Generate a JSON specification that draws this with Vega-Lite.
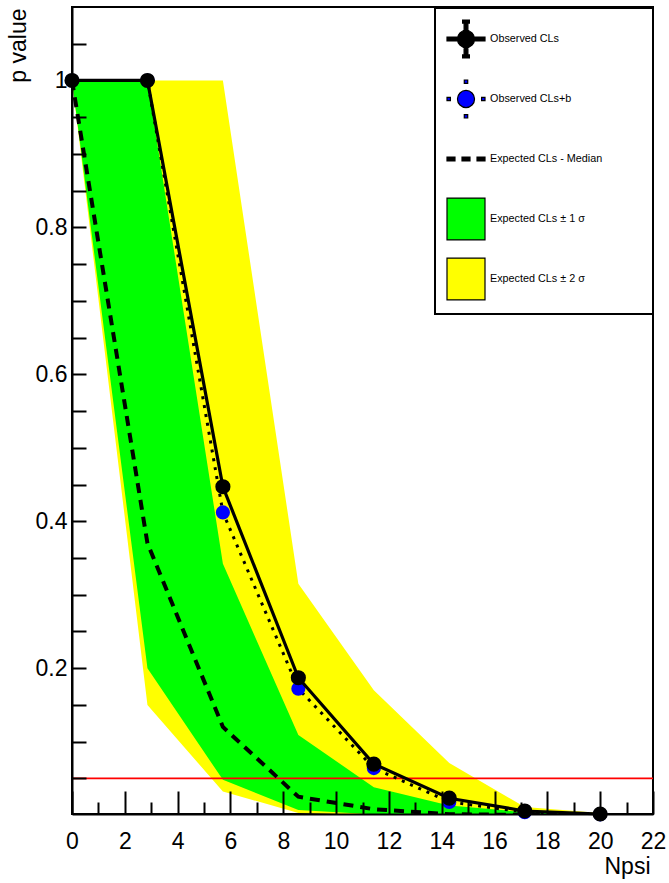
{
  "$schema": "https://vega.github.io/schema/vega-lite/v6.json",
  "width": 581,
  "height": 807,
  "autosize": {"type": "none"},
  "padding": {"left": 72, "top": 7, "right": 16, "bottom": 69},
  "background": "white",
  "data": {
    "values": [
      {"series": "band2", "Npsi": 0, "lo": 1, "hi": 1},
      {"series": "band2", "Npsi": 2.857, "lo": 0.15, "hi": 1},
      {"series": "band2", "Npsi": 5.714, "lo": 0.032, "hi": 1},
      {"series": "band2", "Npsi": 8.571, "lo": 0.003, "hi": 0.315},
      {"series": "band2", "Npsi": 11.429, "lo": 0.0003, "hi": 0.17},
      {"series": "band2", "Npsi": 14.286, "lo": 0, "hi": 0.071},
      {"series": "band2", "Npsi": 17.143, "lo": 0, "hi": 0.011},
      {"series": "band2", "Npsi": 20, "lo": 0, "hi": 0.003},
      {"series": "band1", "Npsi": 0, "lo": 1, "hi": 1},
      {"series": "band1", "Npsi": 2.857, "lo": 0.2, "hi": 1},
      {"series": "band1", "Npsi": 5.714, "lo": 0.048, "hi": 0.342},
      {"series": "band1", "Npsi": 8.571, "lo": 0.007, "hi": 0.109},
      {"series": "band1", "Npsi": 11.429, "lo": 0.001, "hi": 0.038},
      {"series": "band1", "Npsi": 14.286, "lo": 0.0002, "hi": 0.013},
      {"series": "band1", "Npsi": 17.143, "lo": 0, "hi": 0.004},
      {"series": "band1", "Npsi": 20, "lo": 0, "hi": 0.001},
      {"series": "limit", "Npsi": 0, "lo": 0.05},
      {"series": "limit", "Npsi": 22, "lo": 0.05},
      {"series": "exp", "Npsi": 0, "lo": 1},
      {"series": "exp", "Npsi": 2.857, "lo": 0.37},
      {"series": "exp", "Npsi": 5.714, "lo": 0.12},
      {"series": "exp", "Npsi": 8.571, "lo": 0.025},
      {"series": "exp", "Npsi": 11.429, "lo": 0.008},
      {"series": "exp", "Npsi": 14.286, "lo": 0.0012},
      {"series": "exp", "Npsi": 17.143, "lo": 0.0003},
      {"series": "exp", "Npsi": 20, "lo": 0.0001},
      {"series": "obsb", "Npsi": 0, "lo": 1},
      {"series": "obsb", "Npsi": 2.857, "lo": 1},
      {"series": "obsb", "Npsi": 5.714, "lo": 0.412},
      {"series": "obsb", "Npsi": 8.571, "lo": 0.172},
      {"series": "obsb", "Npsi": 11.429, "lo": 0.064},
      {"series": "obsb", "Npsi": 14.286, "lo": 0.018},
      {"series": "obsb", "Npsi": 17.143, "lo": 0.004},
      {"series": "obsb", "Npsi": 20, "lo": 0.001},
      {"series": "obs", "Npsi": 0, "lo": 1},
      {"series": "obs", "Npsi": 2.857, "lo": 1},
      {"series": "obs", "Npsi": 5.714, "lo": 0.447},
      {"series": "obs", "Npsi": 8.571, "lo": 0.187},
      {"series": "obs", "Npsi": 11.429, "lo": 0.0695},
      {"series": "obs", "Npsi": 14.286, "lo": 0.023},
      {"series": "obs", "Npsi": 17.143, "lo": 0.0056},
      {"series": "obs", "Npsi": 20, "lo": 0.0015}
    ]
  },
  "encoding": {
    "x": {
      "field": "Npsi",
      "type": "quantitative",
      "scale": {"domain": [0, 22], "nice": false, "zero": false},
      "axis": {
        "values": [0, 0.5, 1, 1.5, 2, 2.5, 3, 3.5, 4, 4.5, 5, 5.5, 6, 6.5, 7, 7.5, 8, 8.5, 9, 9.5, 10, 10.5, 11, 11.5, 12, 12.5, 13, 13.5, 14, 14.5, 15, 15.5, 16, 16.5, 17, 17.5, 18, 18.5, 19, 19.5, 20, 20.5, 21, 21.5, 22],
        "format": "d",
        "labelExpr": "datum.value % 2 === 0 ? datum.label : ''",
        "labelFlush": false,
        "labelOverlap": false,
        "labelFontSize": 23,
        "labelColor": "black",
        "labelPadding": 39,
        "labelBaseline": "top",
        "tickSize": -23,
        "tickDash": {"condition": {"test": "datum.value % 2 !== 0", "value": [12, 40]}, "value": []},
        "tickColor": "black",
        "tickWidth": 2,
        "domainColor": "black",
        "domainWidth": 2,
        "grid": false,
        "zindex": 1,
        "title": "Npsi",
        "titleFontSize": 23,
        "titleFontWeight": "normal",
        "titleColor": "black",
        "titleX": 578,
        "titleY": 59,
        "titleAlign": "right",
        "titleBaseline": "alphabetic"
      }
    },
    "y": {
      "field": "lo",
      "type": "quantitative",
      "scale": {"domain": [0.0015, 1.1], "nice": false, "zero": false},
      "axis": {
        "values": [0.05, 0.1, 0.15, 0.2, 0.25, 0.3, 0.35, 0.4, 0.45, 0.5, 0.55, 0.6, 0.65, 0.7, 0.75, 0.8, 0.85, 0.9, 0.95, 1, 1.05],
        "labelExpr": "datum.value * 20 % 4 === 0 ? format(datum.value, '.1~f') : ''",
        "labelFlush": false,
        "labelOverlap": false,
        "labelFontSize": 23,
        "labelColor": "black",
        "labelPadding": 19,
        "tickSize": -14,
        "tickColor": "black",
        "tickWidth": 2,
        "domainColor": "black",
        "domainWidth": 2,
        "grid": false,
        "zindex": 1,
        "title": "p value",
        "titleFontSize": 23,
        "titleFontWeight": "normal",
        "titleColor": "black",
        "titleAngle": 270,
        "titleX": -47,
        "titleY": 1,
        "titleAlign": "right",
        "titleBaseline": "alphabetic"
      }
    }
  },
  "layer": [
    {
      "transform": [{"filter": "datum.series === 'band2'"}],
      "mark": {"type": "area", "color": "#ffff00", "clip": true},
      "encoding": {"y2": {"field": "hi"}}
    },
    {
      "transform": [{"filter": "datum.series === 'band1'"}],
      "mark": {"type": "area", "color": "#00ff00", "clip": true},
      "encoding": {"y2": {"field": "hi"}}
    },
    {
      "transform": [{"filter": "datum.series === 'limit'"}],
      "mark": {"type": "line", "color": "#ff0000", "strokeWidth": 1.6}
    },
    {
      "transform": [{"filter": "datum.series === 'exp'"}],
      "mark": {"type": "line", "color": "black", "strokeWidth": 4, "strokeDash": [10, 7], "clip": true}
    },
    {
      "transform": [{"filter": "datum.series === 'obsb'"}],
      "mark": {"type": "line", "color": "black", "strokeWidth": 3, "strokeDash": [3, 6], "clip": true}
    },
    {
      "transform": [{"filter": "datum.series === 'obsb'"}],
      "mark": {"type": "point", "filled": true, "color": "#0000ff", "opacity": 1, "size": 200}
    },
    {
      "transform": [{"filter": "datum.series === 'obs'"}],
      "mark": {"type": "line", "color": "black", "strokeWidth": 3.2}
    },
    {
      "transform": [{"filter": "datum.series === 'obs'"}],
      "mark": {"type": "point", "filled": true, "color": "black", "opacity": 1, "size": 230}
    },
    {
      "transform": [{"filter": "datum.series === 'none'"}],
      "mark": {"type": "point", "filled": true, "opacity": 1, "stroke": "black", "strokeWidth": 1.2},
      "encoding": {
        "fill": {
          "field": "series",
          "type": "nominal",
          "scale": {
            "domain": ["obs", "obsb", "exp", "band1", "band2"],
            "range": ["#000000", "#0000ff", "#000000", "#00ff00", "#ffff00"]
          },
          "legend": {
            "orient": "none",
            "legendX": 363,
            "legendY": 1,
            "title": null,
            "padding": 11,
            "rowPadding": 12,
            "symbolSize": 1444,
            "symbolStrokeColor": "black",
            "symbolStrokeWidth": 1.2,
            "symbolOpacity": 1,
            "labelFontSize": 10.8,
            "labelColor": "black",
            "labelOffset": 4,
            "labelLimit": 400,
            "labelExpr": "(datum.label === 'obs' ? 'Observed CLs' : datum.label === 'obsb' ? 'Observed CLs+b' : datum.label === 'exp' ? 'Expected CLs - Median' : datum.label === 'band1' ? 'Expected CLs ± 1 σ' : 'Expected CLs ± 2 σ') + '\u00a0\u00a0\u00a0\u00a0\u00a0\u00a0\u00a0\u00a0\u00a0\u00a0\u00a0\u00a0\u00a0\u200b'",
            "strokeColor": "black",
            "fillColor": "white"
          }
        },
        "shape": {
          "field": "series",
          "type": "nominal",
          "scale": {
            "domain": ["obs", "obsb", "exp", "band1", "band2"],
            "range": [
              "M-1,-1.1Z M1,1.1Z M-1,-0.1H1V0.1H-1Z M-0.1,-1H0.1V1H-0.1Z M-0.18,-1H0.18V-0.84H-0.18Z M-0.18,0.84H0.18V1H-0.18Z M-0.45,0A0.45 0.45 0 1 1 0.45,0A0.45 0.45 0 1 1 -0.45,0Z",
              "M-1,-1.1Z M1,1.1Z M-1,-0.09H-0.82V0.09H-1Z M0.82,-0.09H1V0.09H0.82Z M-0.09,-1H0.09V-0.82H-0.09Z M-0.09,0.82H0.09V1H-0.09Z M-0.45,0A0.45 0.45 0 1 1 0.45,0A0.45 0.45 0 1 1 -0.45,0Z",
              "M-1,-1.1Z M1,1.1Z M-1,-0.1H-0.58V0.1H-1Z M-0.21,-0.1H0.21V0.1H-0.21Z M0.58,-0.1H1V0.1H0.58Z",
              "M-1,-1.1H1V1.1H-1Z",
              "M-1,-1.1H1V1.1H-1Z"
            ]
          }
        }
      }
    }
  ],
  "config": {
    "font": "Liberation Sans",
    "view": {"stroke": "black", "strokeWidth": 2},
    "legend": {"strokeWidth": 2}
  }
}
